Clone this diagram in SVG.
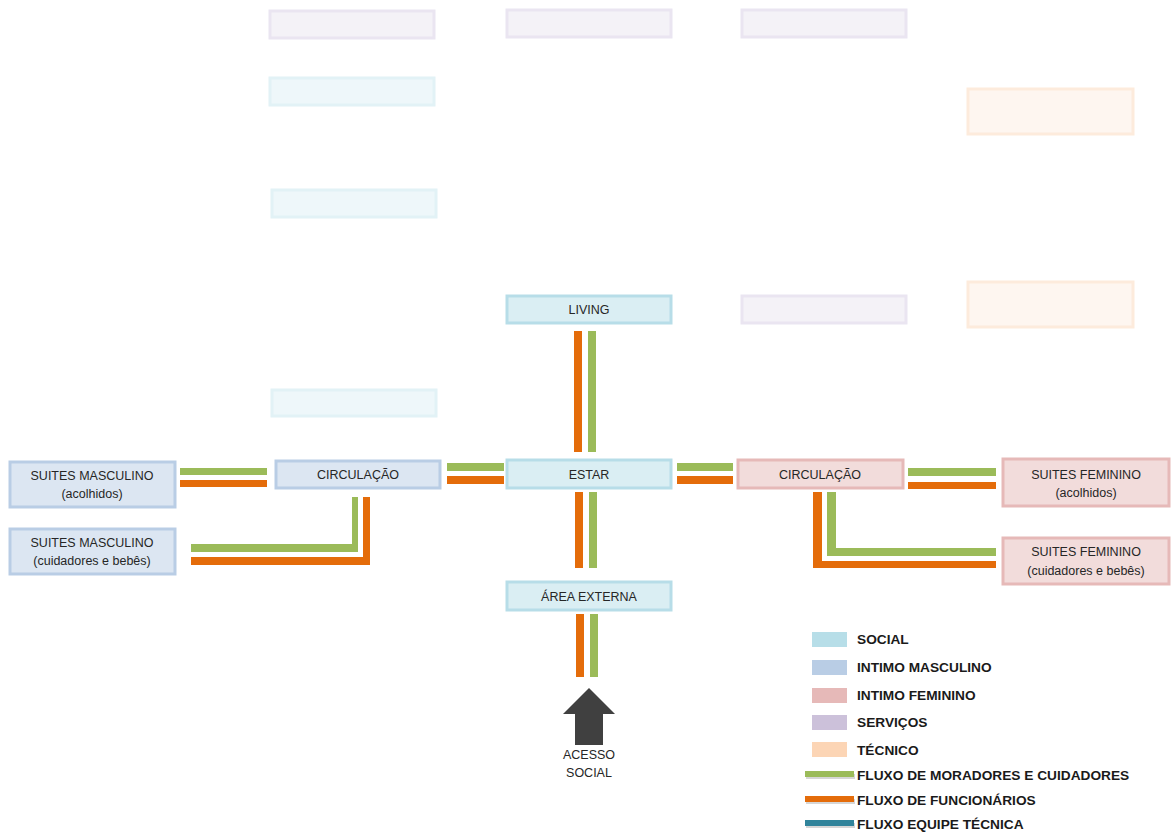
<svg xmlns="http://www.w3.org/2000/svg" width="1176" height="834" viewBox="0 0 1176 834">
<style>
.bg{fill:#ffffff}
.n{stroke-width:3}
.soc{fill:#DAEEF3;stroke:#B7DDE8}
.mas{fill:#DCE6F2;stroke:#B9CDE5}
.fem{fill:#F2DCDB;stroke:#E6B9B8}
.fsv{fill:#F4F2F7;stroke:#EAE5F1}
.fso{fill:#EEF7FA;stroke:#E2F2F6}
.fte{fill:#FEF6F0;stroke:#FDEBDC}
.t{font-family:"Liberation Sans",Arial,sans-serif;font-size:12.5px;fill:#262626;text-anchor:middle}
.g{fill:#9BBB59}
.o{fill:#E46C0A}
.lg{font-family:"Liberation Sans",Arial,sans-serif;font-size:13.7px;font-weight:bold;fill:#1a1a1a}
</style>
<rect class="bg" x="0" y="0" width="1176" height="834"/>
<g id="faded">
<rect class="n fsv" x="270" y="11" width="164" height="27"/>
<rect class="n fsv" x="507" y="10" width="164" height="27"/>
<rect class="n fsv" x="742" y="10" width="164" height="27"/>
<rect class="n fso" x="270" y="78" width="164" height="27"/>
<rect class="n fso" x="272" y="190" width="164" height="27"/>
<rect class="n fte" x="968" y="89" width="165" height="45"/>
<rect class="n fte" x="968" y="282" width="165" height="45"/>
<rect class="n fsv" x="742" y="296" width="164" height="27"/>
<rect class="n fso" x="272" y="390" width="164" height="26"/>
</g>
<g id="connectors">
<rect class="g" x="180" y="468" width="87" height="7"/>
<rect class="o" x="180" y="480" width="87" height="7"/>
<rect class="g" x="447" y="463" width="57" height="8"/>
<rect class="o" x="447" y="476" width="57" height="8"/>
<rect class="g" x="677" y="463" width="56" height="8"/>
<rect class="o" x="677" y="476" width="56" height="8"/>
<rect class="g" x="908" y="468" width="88" height="8"/>
<rect class="o" x="908" y="482" width="88" height="7"/>
<rect class="o" x="574" y="331" width="8" height="121"/>
<rect class="g" x="588" y="331" width="8" height="121"/>
<rect class="o" x="575" y="492" width="8" height="76"/>
<rect class="g" x="589" y="492" width="8" height="76"/>
<rect class="o" x="576" y="614" width="8" height="63"/>
<rect class="g" x="590" y="614" width="8" height="63"/>
<path class="g" d="M352 497 H358 V552 H191 V544 H352 Z"/>
<path class="o" d="M363 497 H370 V565 H191 V557 H363 Z"/>
<path class="o" d="M813 492 H822 V561 H996 V568 H813 Z"/>
<path class="g" d="M827 492 H836 V548 H996 V556 H827 Z"/>
</g>
<g id="n-suites-masc-1">
<rect class="n mas" x="10" y="462" width="165" height="45"/>
<text class="t" x="92" y="480">SUITES MASCULINO</text>
<text class="t" x="92" y="498">(acolhidos)</text>
</g>
<g id="n-suites-masc-2">
<rect class="n mas" x="10" y="529" width="165" height="45"/>
<text class="t" x="92" y="547">SUITES MASCULINO</text>
<text class="t" x="92" y="565">(cuidadores e bebês)</text>
</g>
<g id="n-circ-masc">
<rect class="n mas" x="276" y="461" width="164" height="27"/>
<text class="t" x="358" y="479">CIRCULAÇÃO</text>
</g>
<g id="n-living">
<rect class="n soc" x="507" y="296" width="164" height="27"/>
<text class="t" x="589" y="314">LIVING</text>
</g>
<g id="n-estar">
<rect class="n soc" x="507" y="460" width="164" height="28"/>
<text class="t" x="589" y="479">ESTAR</text>
</g>
<g id="n-area-externa">
<rect class="n soc" x="507" y="582" width="164" height="28"/>
<text class="t" x="589" y="601">ÁREA EXTERNA</text>
</g>
<g id="n-circ-fem">
<rect class="n fem" x="738" y="460" width="165" height="28"/>
<text class="t" x="820" y="479">CIRCULAÇÃO</text>
</g>
<g id="n-suites-fem-1">
<rect class="n fem" x="1003" y="459" width="166" height="47"/>
<text class="t" x="1086" y="479">SUITES FEMININO</text>
<text class="t" x="1086" y="497">(acolhidos)</text>
</g>
<g id="n-suites-fem-2">
<rect class="n fem" x="1003" y="538" width="166" height="46"/>
<text class="t" x="1086" y="556">SUITES FEMININO</text>
<text class="t" x="1086" y="575">(cuidadores e bebês)</text>
</g>
<g id="n-acesso">
<path d="M589 688 L615 714 L603 714 L603 745 L575 745 L575 714 L563 714 Z" fill="#404040"/>
<text class="t" x="589" y="759">ACESSO</text>
<text class="t" x="589" y="777">SOCIAL</text>
</g>
<g id="legend">
<rect x="812" y="632" width="35" height="15" fill="#B7DEE8"/>
<rect x="812" y="660" width="35" height="15" fill="#B9CDE5"/>
<rect x="812" y="688" width="35" height="15" fill="#E6B9B8"/>
<rect x="812" y="715" width="35" height="15" fill="#CCC1DA"/>
<rect x="812" y="742" width="35" height="15" fill="#FCD5B5"/>
<rect x="806" y="774" width="49" height="5" fill="#bbbbbb" opacity="0.6"/>
<rect x="805" y="771" width="49" height="6" fill="#9BBB59"/>
<rect x="806" y="799" width="49" height="5" fill="#bbbbbb" opacity="0.6"/>
<rect x="805" y="796" width="49" height="6" fill="#E46C0A"/>
<rect x="806" y="823" width="49" height="5" fill="#bbbbbb" opacity="0.6"/>
<rect x="805" y="820" width="49" height="6" fill="#31849B"/>
<text class="lg" x="857" y="644">SOCIAL</text>
<text class="lg" x="857" y="672">INTIMO MASCULINO</text>
<text class="lg" x="857" y="700">INTIMO FEMININO</text>
<text class="lg" x="857" y="727">SERVIÇOS</text>
<text class="lg" x="857" y="755">TÉCNICO</text>
<text class="lg" x="857" y="780">FLUXO DE MORADORES E CUIDADORES</text>
<text class="lg" x="857" y="805">FLUXO DE FUNCIONÁRIOS</text>
<text class="lg" x="857" y="829">FLUXO EQUIPE TÉCNICA</text>
</g>
</svg>
